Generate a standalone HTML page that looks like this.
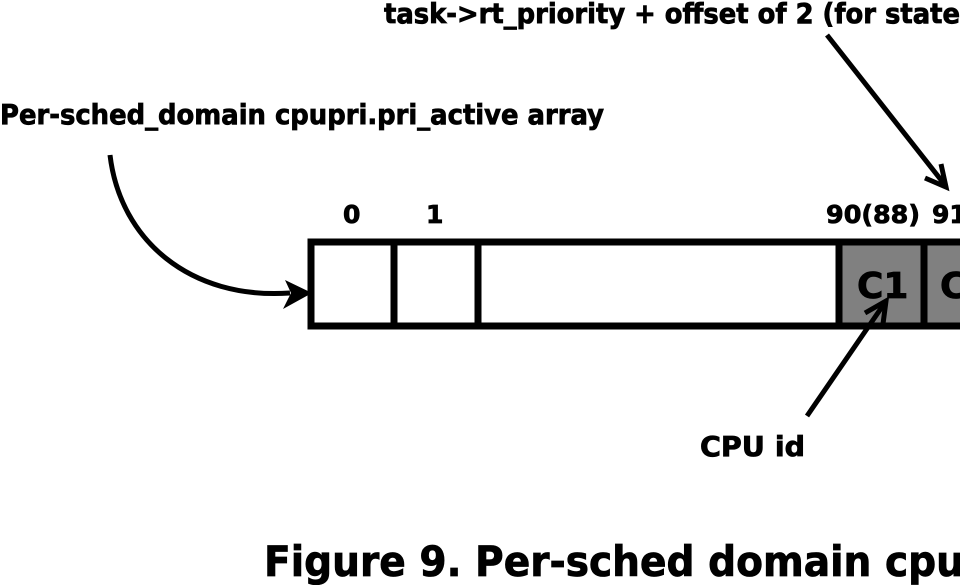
<!DOCTYPE html>
<html><head><meta charset="utf-8"><style>
html,body{margin:0;padding:0;background:#fff;width:960px;height:585px;overflow:hidden}
text{font-family:"DejaVu Sans","Liberation Sans",sans-serif;font-weight:bold;fill:#000;stroke:#000;stroke-width:0.8}
</style></head><body>
<svg width="960" height="585" viewBox="0 0 960 585" xmlns="http://www.w3.org/2000/svg">
<text x="384" y="23" font-size="28" textLength="576" lengthAdjust="spacingAndGlyphs">task-&gt;rt_priority + offset of 2 (for state</text>
<text x="0" y="124" font-size="28" textLength="604" lengthAdjust="spacingAndGlyphs">Per-sched_domain cpupri.pri_active array</text>
<text x="343" y="223" font-size="25">0</text>
<text x="426" y="223" font-size="25">1</text>
<text x="826" y="223" font-size="25" textLength="94" lengthAdjust="spacingAndGlyphs">90(88)</text>
<text x="932" y="223" font-size="25">91</text>
<rect x="838" y="242" width="130" height="84" fill="#808080"/>
<rect x="311" y="242" width="700" height="84" fill="none" stroke="#000" stroke-width="7"/>
<line x1="394" y1="240" x2="394" y2="328" stroke="#000" stroke-width="7"/>
<line x1="478" y1="240" x2="478" y2="328" stroke="#000" stroke-width="7"/>
<line x1="839" y1="240" x2="839" y2="328" stroke="#000" stroke-width="7"/>
<line x1="924" y1="240" x2="924" y2="328" stroke="#000" stroke-width="7"/>
<text x="857" y="298" font-size="36" stroke-width="1">C1</text>
<text x="940" y="298" font-size="36" stroke-width="1">C</text>
<path d="M110 155 C120 240 190 300 290 293" fill="none" stroke="#000" stroke-width="5"/>
<path d="M312 293 L285 280 L291 293 L283 309 Z" fill="#000"/>
<line x1="827" y1="35" x2="945" y2="185" stroke="#000" stroke-width="5"/>
<path d="M925 178 L946 187 L941 164" fill="none" stroke="#000" stroke-width="5"/>
<line x1="807" y1="416" x2="884" y2="304" stroke="#000" stroke-width="5"/>
<path d="M865 313 L886 301 L883 324" fill="none" stroke="#000" stroke-width="5"/>
<text x="700" y="456" font-size="28" textLength="105" lengthAdjust="spacingAndGlyphs">CPU id</text>
<text x="264" y="576" font-size="42" stroke-width="1.2" textLength="700" lengthAdjust="spacingAndGlyphs">Figure 9. Per-sched domain cpu</text>
</svg>
</body></html>
